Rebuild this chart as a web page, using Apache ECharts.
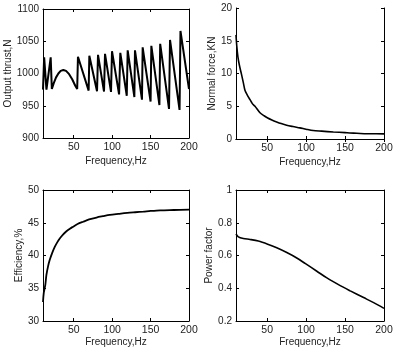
<!DOCTYPE html>
<html>
<head>
<meta charset="utf-8">
<script src="https://cdn.jsdelivr.net/npm/echarts@6/dist/echarts.min.js"></script>
<style>
html,body{margin:0;padding:0;background:#fff;}
#c{width:396px;height:348px;}
</style>
</head>
<body>
<div id="c"></div>
<script>
// ---- data ----
const xTicks = [50, 100, 150, 200];

const thrustFreq = [10, 11.5, 14.5, 20, 21.5, 24, 27, 30, 33, 36.5, 40, 44, 48, 52, 54.5, 55.5,
  69.4, 70.3, 80.3, 81.6, 89.4, 90.7, 98.5, 99.8, 109, 110.6, 119, 120.2, 128.9, 129.7,
  138.8, 139.7, 150, 151, 161.5, 162.5, 174, 175.3, 187.7, 188.9, 200];
const thrustVal = [975, 1025, 975, 1025, 976, 985, 994, 1000, 1004, 1005.5, 1004, 999, 991, 981, 976, 1026,
  973.5, 1027.5, 972.5, 1029, 972, 1030.5, 971.5, 1034.5, 967.5, 1032, 965.5, 1036, 963.5, 1036,
  959.5, 1040.5, 956.5, 1043, 951, 1046, 945, 1052, 943.5, 1066, 976];

const normalFreq = [10, 11, 12.5, 14.3, 17, 19.4, 21.6, 25, 28, 31, 34.4, 40.8, 46, 50.7, 56, 62.2, 68,
  75, 83, 92, 100, 109, 120, 135, 150, 156, 165, 178, 190, 200];
const normalVal = [15.9, 14.2, 12.5, 11.3, 9.9, 8.6, 7.4, 6.6, 6.0, 5.4, 5.0, 4.0, 3.55, 3.2, 2.9, 2.6, 2.35,
  2.1, 1.9, 1.7, 1.5, 1.3, 1.2, 1.07, 0.97, 0.92, 0.88, 0.8, 0.8, 0.78];

const effFreq = [10, 11, 13, 14.4, 16.5, 18.7, 22, 25.3, 28.5, 31.8, 36, 40.5, 45, 49.2, 55, 62.2, 70,
  79.6, 88, 97, 108, 119.8, 130, 140.7, 150, 162.5, 180, 200];
const effVal = [32.9, 34.3, 35.5, 37, 38.3, 39.3, 40.4, 41.3, 42.0, 42.6, 43.2, 43.7, 44.1, 44.4, 44.8, 45.15, 45.5,
  45.8, 46.0, 46.2, 46.35, 46.5, 46.6, 46.7, 46.8, 46.9, 46.95, 47.0];

const pfFreq = [10, 13, 19.4, 28, 38.7, 50.7, 62.3, 75.2, 88, 99.2, 113.8, 126.7, 143.8, 156.7, 173.8, 186.7, 200];
const pfVal = [0.731, 0.714, 0.704, 0.698, 0.688, 0.669, 0.647, 0.618, 0.585, 0.55, 0.504, 0.463, 0.416, 0.384, 0.343, 0.312, 0.277];

const yNames = ['Output thrust,N', 'Normal force,KN', 'Efficiency,%', 'Power factor'];
const yRanges = [[900, 1100, 50], [0, 20, 5], [30, 50, 5], [0.2, 1, 0.2]];
const xName = 'Frequency,Hz';

// ---- chart ----
const FONT = "'Liberation Sans', Arial, sans-serif";
const grids = [
  {left: 43, top: 9, width: 146, height: 129},
  {left: 236, top: 8, width: 148, height: 131},
  {left: 43, top: 190, width: 146, height: 131},
  {left: 236, top: 190, width: 148, height: 131}
];
const yNameGaps = [25, 18, 19, 22];
const xNameGaps = [18, 18, 15, 15];
const seriesData = [
  [thrustFreq, thrustVal], [normalFreq, normalVal], [effFreq, effVal], [pfFreq, pfVal]
];
const lineWidths = [2, 1.6, 1.8, 1.6];

const axisLine = {show: true, lineStyle: {color: '#000', width: 1}};
const xAxis = [], yAxis = [], series = [];
grids.forEach((g, i) => {
  xAxis.push({
    type: 'value', gridIndex: i, position: 'bottom', min: 10, max: 200,
    name: xName, nameLocation: 'middle', nameGap: xNameGaps[i],
    nameTextStyle: {fontFamily: FONT, fontSize: 10, color: '#222'},
    axisLine: axisLine,
    axisTick: {show: true, inside: true, length: 3, customValues: xTicks, lineStyle: {color: '#000'}},
    axisLabel: {customValues: xTicks, fontFamily: FONT, fontSize: 10.5, color: '#222', margin: 4},
    splitLine: {show: false}
  });
  xAxis.push({
    type: 'value', gridIndex: i, position: 'top', min: 10, max: 200,
    axisLine: axisLine,
    axisTick: {show: true, inside: true, length: 3, customValues: xTicks, lineStyle: {color: '#000'}},
    axisLabel: {show: false},
    splitLine: {show: false}
  });
  const r = yRanges[i];
  yAxis.push({
    type: 'value', gridIndex: i, position: 'left', min: r[0], max: r[1], interval: r[2],
    name: yNames[i], nameLocation: 'middle', nameGap: yNameGaps[i], nameRotate: 90,
    nameTextStyle: {fontFamily: FONT, fontSize: 10, color: '#222'},
    axisLine: axisLine,
    axisTick: {show: true, inside: true, length: 3, lineStyle: {color: '#000'}},
    axisLabel: {fontFamily: FONT, fontSize: 10, color: '#222', margin: 4,
      formatter: v => String(parseFloat(v.toFixed(2)))},
    splitLine: {show: false}
  });
  yAxis.push({
    type: 'value', gridIndex: i, position: 'right', min: r[0], max: r[1], interval: r[2],
    axisLine: axisLine,
    axisTick: {show: true, inside: true, length: 3, lineStyle: {color: '#000'}},
    axisLabel: {show: false},
    splitLine: {show: false}
  });
  const d = seriesData[i];
  series.push({
    type: 'line', xAxisIndex: i * 2, yAxisIndex: i * 2,
    data: d[0].map((x, k) => [x, d[1][k]]),
    showSymbol: false, smooth: i === 0 ? false : 0.3,
    lineStyle: {color: '#000', width: lineWidths[i]},
    silent: true, animation: false
  });
});

const chart = echarts.init(document.getElementById('c'), null, {renderer: 'canvas'});
chart.setOption({
  animation: false,
  backgroundColor: '#fff',
  grid: grids,
  xAxis: xAxis,
  yAxis: yAxis,
  series: series
});
</script>
</body>
</html>
